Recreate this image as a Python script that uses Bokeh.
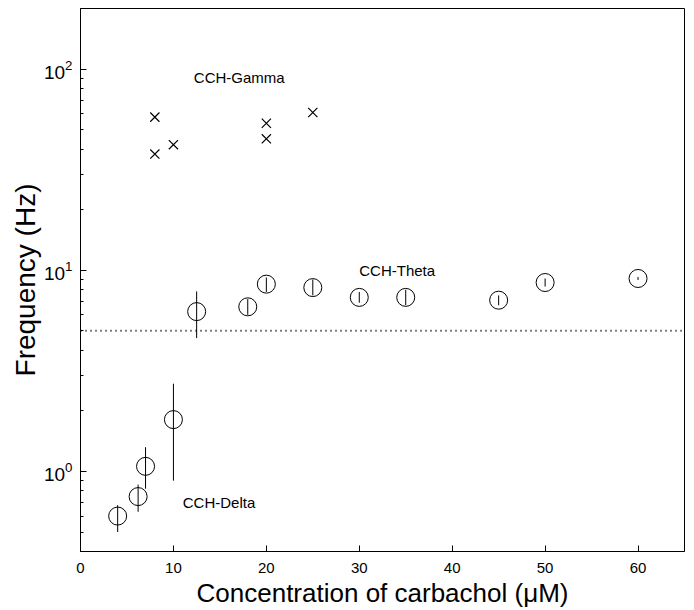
from bokeh.plotting import figure
from bokeh.models import FixedTicker, Range1d, Span
from bokeh.core.properties import value
from bokeh.embed import file_html
from bokeh.resources import INLINE

# Delta band (circles with error bars)
delta_x = [4, 6.2, 7, 10]
delta_y = [0.60, 0.75, 1.06, 1.81]
delta_lo = [0.50, 0.63, 0.82, 0.90]
delta_hi = [0.68, 0.86, 1.32, 2.73]

# Theta band
theta_x = [12.5, 18, 20, 25, 30, 35, 45, 50, 60]
theta_y = [6.23, 6.58, 8.53, 8.2, 7.33, 7.33, 7.1, 8.69, 9.1]
theta_lo = [4.6, 6.0, 7.8, 7.5, 6.9, 6.7, 6.7, 8.3, 8.95]
theta_hi = [7.85, 7.2, 9.2, 9.0, 7.8, 8.0, 7.5, 9.1, 9.25]

# Gamma band (crosses)
gamma_x = [8, 8, 10, 20, 20, 25]
gamma_y = [57.7, 37.8, 42.1, 53.8, 45.0, 60.8]

threshold = 5.0
labels = ["CCH-Gamma", "CCH-Theta", "CCH-Delta"]
label_x = [12.2, 30.0, 11.0]
label_y = [91.0, 10.0, 0.70]

x_ticks = [0, 10, 20, 30, 40, 50, 60]
y_ticks = [1, 10, 100]
y_minor = [0.4, 0.5, 0.6, 0.7, 0.8, 0.9] + [m * d for d in (1, 10) for m in range(2, 10)] + [200]

FONT = "Liberation Sans"

p = figure(width=694, height=610, y_axis_type="log",
           x_range=Range1d(0, 65), y_range=Range1d(0.4, 200),
           output_backend="svg", toolbar_location=None,
           min_border_left=80, min_border_right=10, min_border_top=8, min_border_bottom=56)

p.grid.visible = False
p.outline_line_color = "black"
p.outline_line_width = 1
p.background_fill_color = "white"
p.border_fill_color = "white"

xa = p.xaxis[0]
xa.ticker = FixedTicker(ticks=x_ticks)
xa.axis_label = "Concentration of carbachol (\u03bcM)"
ya = p.yaxis[0]
ya.ticker = FixedTicker(ticks=y_ticks, minor_ticks=y_minor)
ya.axis_label = "Frequency (Hz)"
for ax in (xa, ya):
    ax.major_tick_in = 6
    ax.major_tick_out = 0
    ax.minor_tick_in = 3
    ax.minor_tick_out = 0
    ax.axis_line_color = "black"
    ax.major_tick_line_color = "black"
    ax.minor_tick_line_color = "black"
    ax.major_label_text_font = FONT
    ax.major_label_text_color = "black"
    ax.axis_label_text_font = FONT
    ax.axis_label_text_font_style = "normal"
    ax.axis_label_text_color = "black"
xa.minor_tick_in = 0
xa.major_label_text_font_size = "15px"
ya.major_label_text_font_size = "19px"
xa.axis_label_text_font_size = "26px"
ya.axis_label_text_font_size = "28px"
xa.major_label_standoff = 11
xa.axis_label_standoff = 2
ya.major_label_standoff = 8
ya.axis_label_standoff = 0

# threshold line
p.add_layout(Span(location=threshold, dimension="width", line_color="black",
                  line_dash="1 4", line_width=2))

# error bars
p.segment(x0=delta_x, y0=delta_lo, x1=delta_x, y1=delta_hi, line_color="black", line_width=1)
p.segment(x0=theta_x, y0=theta_lo, x1=theta_x, y1=theta_hi, line_color="black", line_width=1)

# circles
p.scatter(delta_x, delta_y, marker="circle", size=18, fill_color=None, line_color="black", line_width=1)
p.scatter(theta_x, theta_y, marker="circle", size=18, fill_color=None, line_color="black", line_width=1)

# crosses
p.scatter(gamma_x, gamma_y, marker="x", size=13, line_color="black", line_width=1.2)

# labels
p.text(x=label_x, y=label_y, text=labels, text_font=value(FONT), text_font_size="15px",
       text_baseline="middle", text_align="left", text_color="black")

open("out.html", "w").write(file_html(p, INLINE))
